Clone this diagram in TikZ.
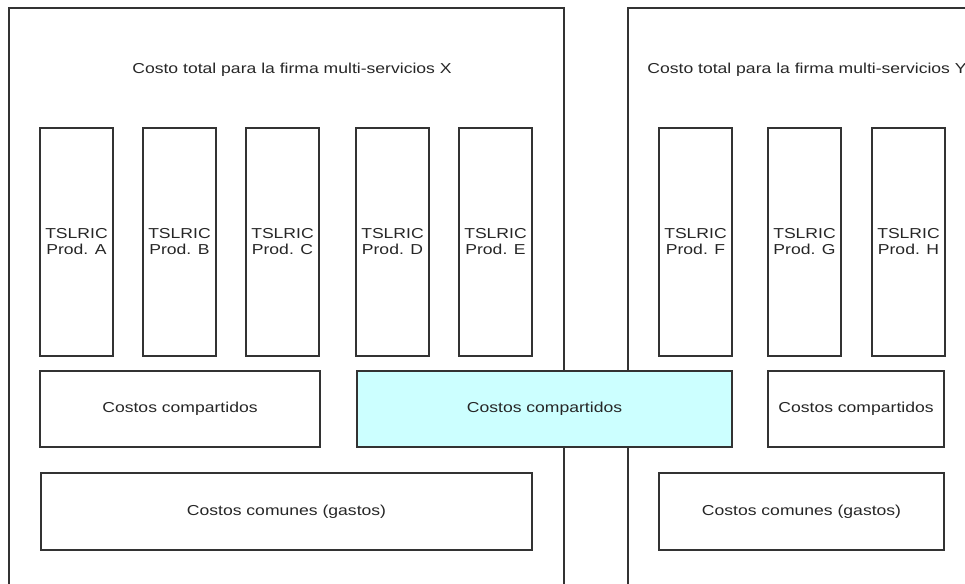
\documentclass[tikz,border=0pt]{standalone}
\usepackage{fontspec}
\setmainfont{Liberation Sans}[FakeStretch=1.22]
\usetikzlibrary{positioning}
\definecolor{lineGray}{HTML}{333333}
\definecolor{sharedCyan}{HTML}{CCFFFF}
\tikzstyle{cFirm} = [rectangle, draw=lineGray, line width=1.3pt, minimum height=592pt, inner sep=0pt]
\tikzstyle{cTitle} = [text=black!85]
\tikzstyle{cProduct} = [rectangle, draw=lineGray, fill=white, line width=1.3pt, outer sep=0pt, minimum width=73pt, minimum height=228pt, align=center, text=black!85]
\tikzstyle{cShared} = [rectangle, draw=lineGray, fill=white, line width=1.3pt, minimum height=76pt, text=black!85]
\tikzstyle{cCommon} = [rectangle, draw=lineGray, fill=white, line width=1.3pt, minimum height=77pt, text=black!85]

\begin{document}
\begin{tikzpicture}[x=1pt, y=-1pt, font=\fontsize{14.4pt}{16pt}\selectfont]
    \useasboundingbox (0,0) rectangle (965,583);
    % the two firms
    \node (firmX) [cFirm, minimum width=555pt] at (286.5,304) {};
    \node (firmY) [cFirm, minimum width=358pt] at (807,304) {};
    \node (titleX) [cTitle] at (292,70) {Costo total para la firma multi-servicios X};
    \node (titleY) [cTitle] at (807,70) {Costo total para la firma multi-servicios Y};

    % products
    \node (prodA) [cProduct] at (76.5,242) {TSLRIC\\Prod. A};
    \node (prodB) [cProduct, right=30pt of prodA] {TSLRIC\\Prod. B};
    \node (prodC) [cProduct, right=30pt of prodB] {TSLRIC\\Prod. C};
    \node (prodD) [cProduct, right=37pt of prodC] {TSLRIC\\Prod. D};
    \node (prodE) [cProduct, right=30pt of prodD] {TSLRIC\\Prod. E};
    \node (prodF) [cProduct] at (695.5,242) {TSLRIC\\Prod. F};
    \node (prodG) [cProduct, right=36pt of prodF] {TSLRIC\\Prod. G};
    \node (prodH) [cProduct, right=31pt of prodG] {TSLRIC\\Prod. H};

    % shared and common costs
    \node (sharedX) [cShared, minimum width=280pt] at (180,409) {Costos compartidos};
    \node (sharedXY) [cShared, fill=sharedCyan, minimum width=375pt] at (544.5,409) {Costos compartidos};
    \node (sharedY) [cShared, minimum width=176pt] at (856,409) {Costos compartidos};
    \node (commonX) [cCommon, minimum width=491pt] at (286.5,511.5) {Costos comunes (gastos)};
    \node (commonY) [cCommon, minimum width=285pt] at (801.5,511.5) {Costos comunes (gastos)};
\end{tikzpicture}
\end{document}
